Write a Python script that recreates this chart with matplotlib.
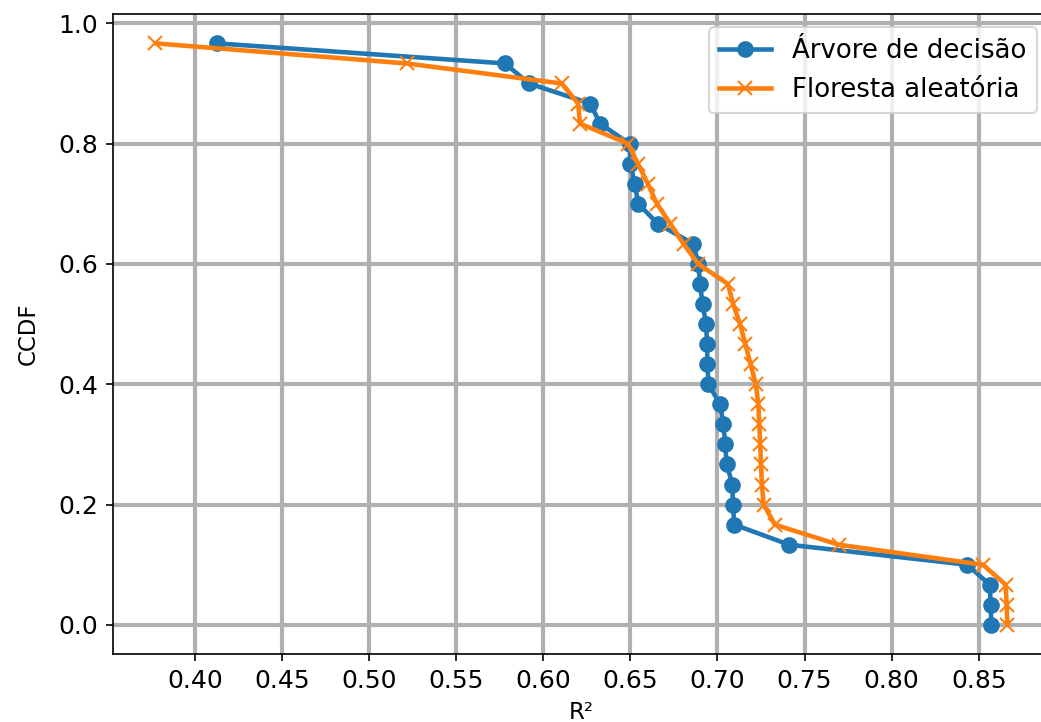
import numpy as np
import matplotlib
matplotlib.use("Agg")
import matplotlib.pyplot as plt

# R² values sorted ascending (each model, 30 runs)
arvore = [0.4125, 0.578, 0.5917, 0.627, 0.6325, 0.6495, 0.650, 0.6525, 0.6545, 0.6658,
          0.6862, 0.689, 0.690, 0.6914, 0.6935, 0.694, 0.6942, 0.6948, 0.7015, 0.7034,
          0.7044, 0.7053, 0.7086, 0.7088, 0.7097, 0.7411, 0.8435, 0.8563, 0.8569, 0.8572]
floresta = [0.3772, 0.5215, 0.6105, 0.620, 0.621, 0.6486, 0.6543, 0.660, 0.6652, 0.673,
            0.6805, 0.689, 0.706, 0.709, 0.713, 0.716, 0.719, 0.722, 0.7235, 0.724,
            0.7245, 0.725, 0.7255, 0.7265, 0.733, 0.7695, 0.8525, 0.8655, 0.866, 0.8665]
labels = ["Árvore de decisão", "Floresta aleatória"]


def ccdf(values):
    n = len(values)
    return 1.0 - np.arange(1, n + 1) / n


fig = plt.figure(figsize=(1041 / 150, 722 / 150), dpi=150)
ax = fig.add_axes([0.1083, 0.0942, 0.9004, 0.886])

ax.plot(arvore, ccdf(arvore), marker="o", ms=7, color="#1f77b4", lw=2.2, label=labels[0])
ax.plot(floresta, ccdf(floresta), marker="x", ms=7, color="#ff7f0e", lw=2.2, label=labels[1])

ax.grid(True, color="#b0b0b0", linewidth=2)
ax.set_xticks([0.40, 0.45, 0.50, 0.55, 0.60, 0.65, 0.70, 0.75, 0.80, 0.85])
ax.tick_params(labelsize=12)
ax.set_xlabel("R²", fontsize=11, labelpad=4)
ax.set_ylabel("CCDF", fontsize=11, labelpad=9)
ax.legend(loc="upper right", fontsize=12.5)

fig.savefig("out.png", dpi=150)
